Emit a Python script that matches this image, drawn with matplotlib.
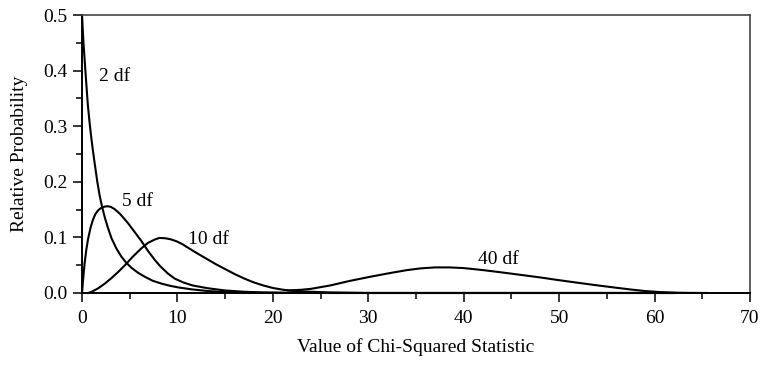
import numpy as np
import matplotlib.pyplot as plt
from matplotlib.ticker import MultipleLocator

plt.rcParams['font.family'] = ['Liberation Serif', 'DejaVu Serif']

# curve values (x = chi-squared value, y = relative probability)
df2_x = [0, 0.15, 0.35, 0.6, 0.8, 1.0, 1.15, 1.35, 1.6, 1.85, 2.1, 2.4, 2.7, 3.1, 3.6, 4.1, 4.6, 5.2, 5.9,
         6.6, 7.4, 8.3, 9.2, 10.1, 11.5, 13.2, 15.0, 17.0, 20.0, 25.0, 62.0]
df2_y = [0.5, 0.45, 0.40, 0.34, 0.305, 0.275, 0.255, 0.23, 0.20, 0.175, 0.155, 0.135, 0.118, 0.098, 0.080,
         0.066, 0.055, 0.045, 0.036, 0.029, 0.022, 0.017, 0.013, 0.010, 0.0065, 0.0035, 0.0015, 0.0006, 0.0002, 0.0, 0.0]

df5_x = [0, 0.1, 0.28, 0.45, 0.63, 0.9, 1.15, 1.4, 1.7, 2.0, 2.4, 2.7, 3.0, 3.4, 4.0, 4.8, 5.5, 6.2, 6.9, 7.6,
         8.2, 9.0, 9.7, 10.6, 11.6, 13.2, 15.0, 17.0, 19.0, 22.0, 26.0, 62.0]
df5_y = [0.0, 0.022, 0.055, 0.078, 0.097, 0.118, 0.132, 0.142, 0.149, 0.153, 0.1555, 0.156, 0.155, 0.151, 0.142,
         0.126, 0.110, 0.094, 0.076, 0.060, 0.048, 0.035, 0.026, 0.019, 0.0135, 0.0085, 0.0045, 0.0022, 0.0010,
         0.0003, 0.0, 0.0]

df10_x = [0.63, 1.0, 1.7, 2.4, 3.1, 3.8, 4.5, 5.3, 6.2, 6.9, 7.6, 8.1, 8.7, 9.3, 9.9, 10.5, 11.1, 12.0, 13.0,
          14.0, 15.0, 16.0, 17.0, 18.0, 19.0, 20.0, 21.0, 22.0, 23.5, 26.0, 30.0, 62.0]
df10_y = [0.0, 0.002, 0.0085, 0.017, 0.027, 0.038, 0.050, 0.065, 0.080, 0.090, 0.096, 0.099, 0.0985, 0.0965, 0.093,
          0.088, 0.0815, 0.072, 0.062, 0.052, 0.043, 0.034, 0.026, 0.019, 0.0135, 0.009, 0.006, 0.004, 0.0025,
          0.001, 0.0, 0.0]

df40_x = [21.6, 23.0, 24.0, 26.0, 28.0, 30.0, 32.0, 34.0, 35.5, 37.0, 38.5, 40.0, 42.0, 44.0, 46.0, 48.0, 50.0,
          52.0, 54.0, 56.0, 57.5, 59.0, 60.5, 62.0, 63.5, 65.5]
df40_y = [0.0045, 0.0058, 0.0075, 0.0135, 0.0215, 0.0285, 0.035, 0.041, 0.0443, 0.046, 0.046, 0.0448, 0.0412, 0.037,
          0.0325, 0.028, 0.023, 0.0183, 0.0137, 0.0094, 0.0063, 0.0035, 0.0017, 0.0007, 0.0002, 0.0]

labels = ['2 df', '5 df', '10 df', '40 df']
label_x = [3.4, 5.8, 13.2, 43.6]
label_y = [0.389, 0.165, 0.096, 0.061]

fig = plt.figure(figsize=(7.61, 3.65), dpi=100)
ax = fig.add_axes([0.1078, 0.1973, 0.8777, 0.7616])

for xs, ys in [(df2_x, df2_y), (df5_x, df5_y), (df10_x, df10_y), (df40_x, df40_y)]:
    ax.plot(xs, ys, color='black', lw=1.5, solid_joinstyle='round', clip_on=False)

for t, lx, ly in zip(labels, label_x, label_y):
    ax.text(lx, ly, t, fontsize=14, ha='center', va='center')

ax.set_xlim(0, 70)
ax.set_ylim(0, 0.5)
ax.xaxis.set_major_locator(MultipleLocator(10))
ax.xaxis.set_minor_locator(MultipleLocator(5))
ax.yaxis.set_major_locator(MultipleLocator(0.1))
ax.yaxis.set_minor_locator(MultipleLocator(0.05))
ax.yaxis.set_major_formatter(plt.FuncFormatter(lambda v, p: f'{v:.1f}'))

ax.tick_params(which='major', direction='out', length=6.5, width=1.1, labelsize=14)
ax.tick_params(axis='x', which='major', pad=6)
ax.tick_params(axis='y', which='major', pad=4)
ax.tick_params(which='minor', direction='out', length=4, width=1.1)

for s in ['left', 'bottom']:
    ax.spines[s].set_linewidth(1.4)
    ax.spines[s].set_color('black')
for s in ['top', 'right']:
    ax.spines[s].set_linewidth(1.2)
    ax.spines[s].set_color('#444444')

ax.set_xlabel('Value of Chi-Squared Statistic', fontsize=14, labelpad=8)
ax.set_ylabel('Relative Probability', fontsize=14, labelpad=11)

fig.savefig('out.png', dpi=100)
